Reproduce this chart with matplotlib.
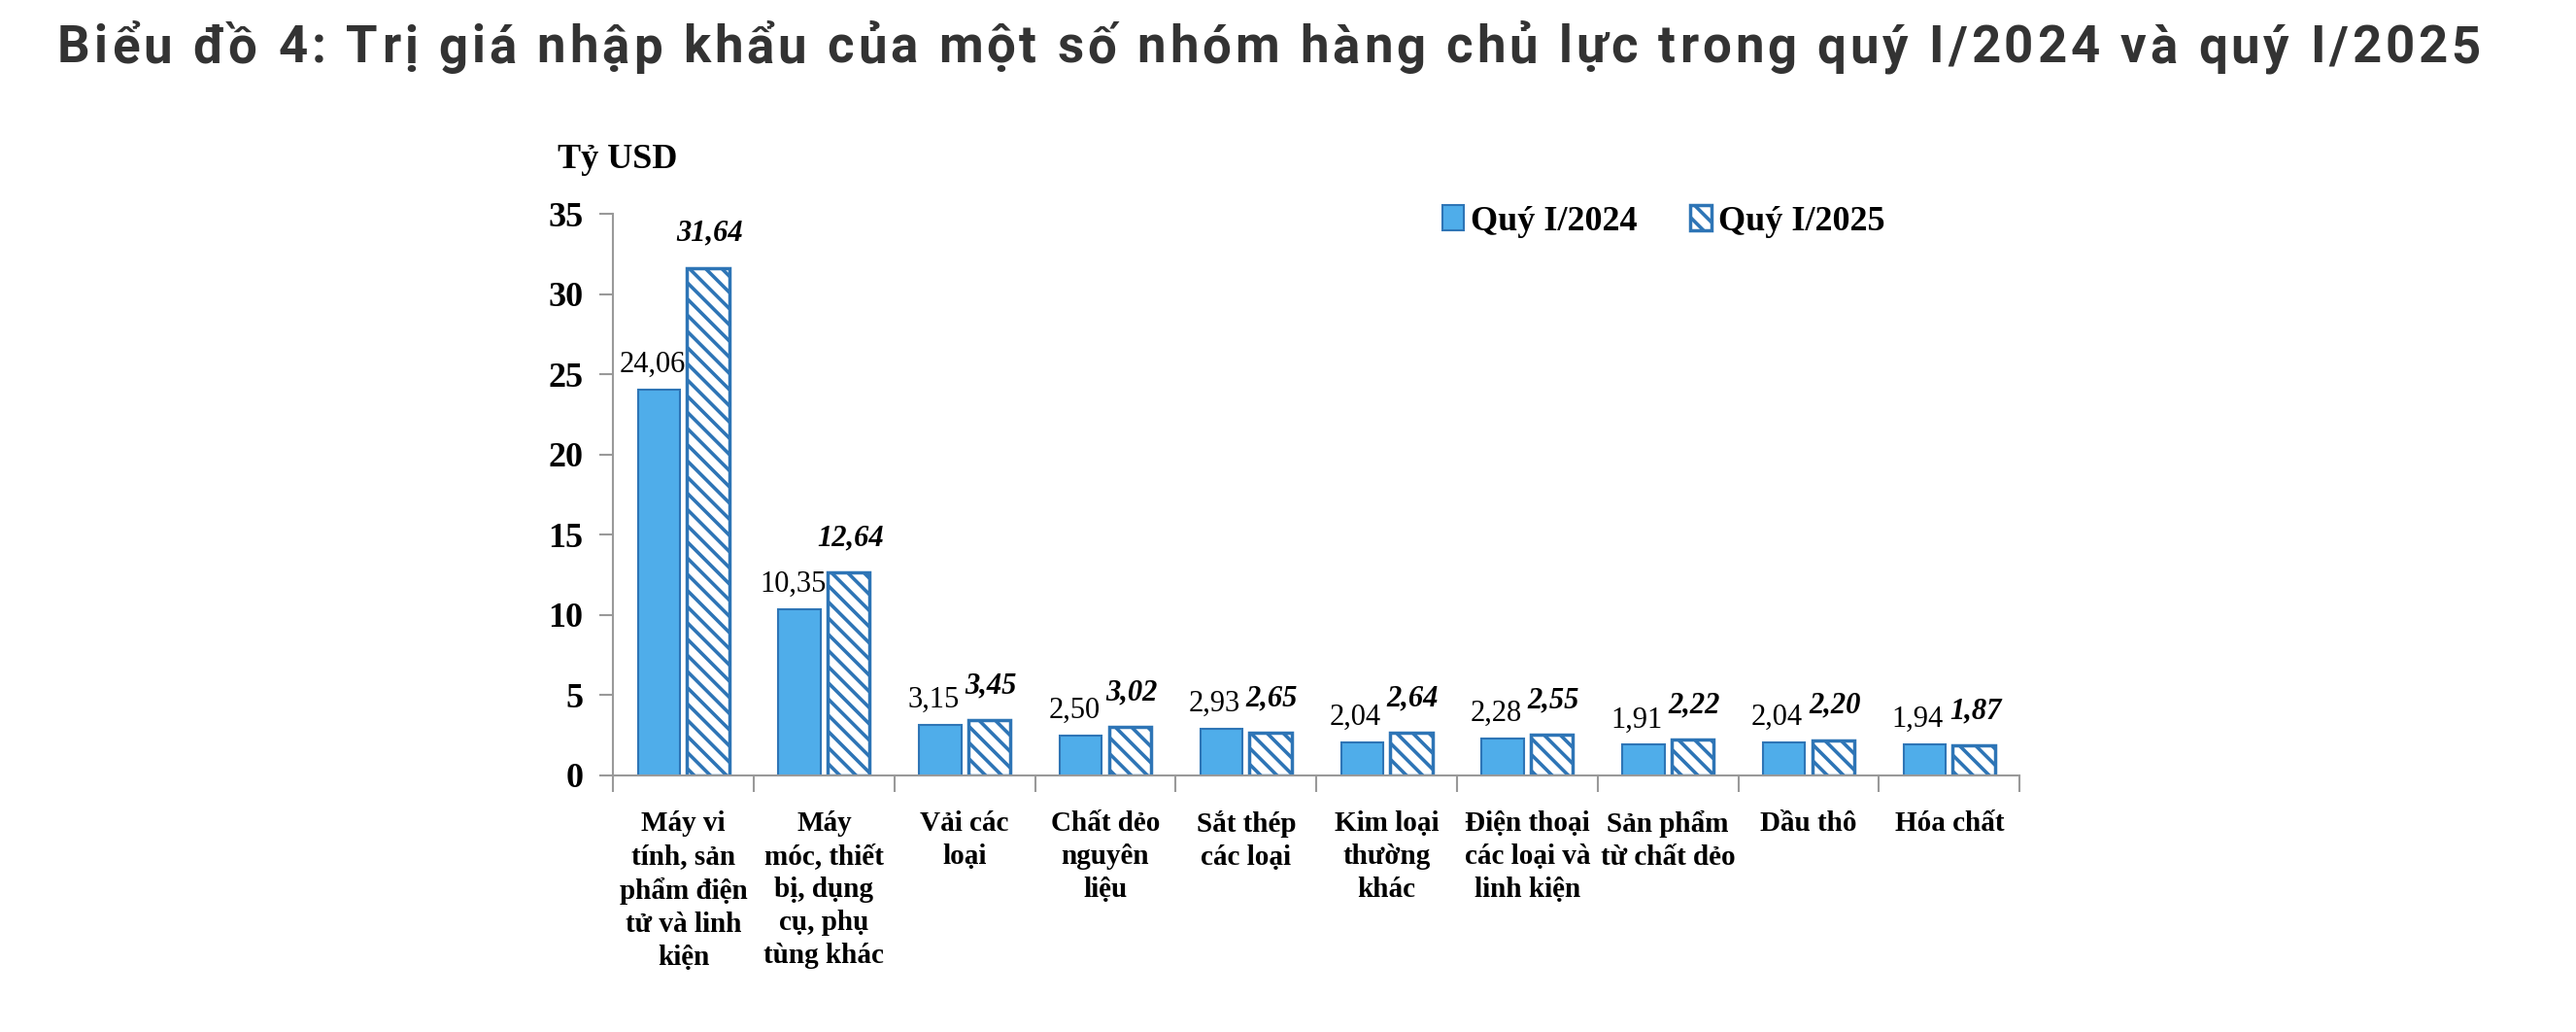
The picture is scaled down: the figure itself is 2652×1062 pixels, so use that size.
import numpy as np
import matplotlib
matplotlib.use("Agg")
import matplotlib.pyplot as plt
from matplotlib.patches import Patch
import matplotlib.transforms as mtransforms

title = "Biểu đồ 4: Trị giá nhập khẩu của một số nhóm hàng chủ lực trong quý I/2024 và quý I/2025"
unit = "Tỷ USD"
categories = ["Máy vi\ntính, sản\nphẩm điện\ntử và linh\nkiện",
              "Máy\nmóc, thiết\nbị, dụng\ncụ, phụ\ntùng khác",
              "Vải các\nloại",
              "Chất dẻo\nnguyên\nliệu",
              "Sắt thép\ncác loại",
              "Kim loại\nthường\nkhác",
              "Điện thoại\ncác loại và\nlinh kiện",
              "Sản phẩm\ntừ chất dẻo",
              "Dầu thô",
              "Hóa chất"]
q1_2024 = [24.06, 10.35, 3.15, 2.50, 2.93, 2.04, 2.28, 1.91, 2.04, 1.94]
q1_2025 = [31.64, 12.64, 3.45, 3.02, 2.65, 2.64, 2.55, 2.22, 2.20, 1.87]
series_names = ["Quý I/2024", "Quý I/2025"]
yticks = [0, 5, 10, 15, 20, 25, 30, 35]

fill_blue = "#4FADEA"
edge_blue = "#2E75B6"
serif = "Liberation Serif"

plt.rcParams['hatch.linewidth'] = 2.6
plt.rcParams['hatch.color'] = fill_blue

W, H = 2652, 1062
fig = plt.figure(figsize=(W / 100, H / 100), dpi=100)
ax = fig.add_axes([0.238, 0.2486, 0.546, 0.5442])

x = np.arange(len(categories)) + 0.5
w = 0.30
off = 0.175
b1 = ax.bar(x - off, q1_2024, w, color=fill_blue, edgecolor=edge_blue, linewidth=1.5)
b2 = ax.bar(x + off, q1_2025, w, color="white", edgecolor=edge_blue, linewidth=2.5, hatch="\\\\")

# data labels
for xi, v in zip(x - off, q1_2024):
    ax.annotate(f"{v:.2f}".replace(".", ","), (xi, v), xytext=(-5, 8), textcoords="offset points",
                ha="center", va="bottom", fontsize=22, family=serif)
for xi, v in zip(x + off, q1_2025):
    ax.annotate(f"{v:.2f}".replace(".", ","), (xi, v), xytext=(1, 15), textcoords="offset points",
                ha="center", va="bottom", fontsize=22, family=serif, fontweight="bold", style="italic")

ax.set_xlim(0, len(categories))
ax.set_ylim(0, 35)
ax.set_yticks(yticks)
ax.set_yticklabels([str(t) for t in yticks], fontsize=26, fontweight="bold", family=serif)
ax.set_xticks(np.arange(len(categories) + 1))
ax.set_xticklabels([])
ax.tick_params(axis="y", length=10, width=1.5, color="#999999", pad=12)
ax.tick_params(axis="x", length=12, width=1.5, color="#999999")
for s in ["top", "right"]:
    ax.spines[s].set_visible(False)
for s in ["left", "bottom"]:
    ax.spines[s].set_color("#999999")
    ax.spines[s].set_linewidth(1.5)

trans = mtransforms.blended_transform_factory(ax.transData, ax.transAxes)
for xi, lab in zip(x, categories):
    ax.text(xi, -0.062, lab, transform=trans, ha="center", va="top", fontsize=21,
            fontweight="bold", family=serif, linespacing=1.34)

fig.text(574 / W, 1 - 164 / H, unit, fontsize=26, fontweight="bold", family=serif,
         ha="left", va="center")

handles = [Patch(facecolor=fill_blue, edgecolor=edge_blue, linewidth=1.5),
           Patch(facecolor="white", edgecolor=edge_blue, linewidth=2.5, hatch="\\\\")]
leg = fig.legend(handles, series_names, loc="center", bbox_to_anchor=(1713 / W, 1 - 228 / H),
                 ncol=2, frameon=False, prop={"family": serif, "weight": "bold", "size": 26},
                 handlelength=0.6, handleheight=0.7, handletextpad=0.2, columnspacing=1.5)

# title with letter spacing, drawn char by char
x0, x1 = 59, 2554
ty = 1 - 50 / H
renderer = fig.canvas.get_renderer()
tprops = dict(fontsize=38, fontweight="bold", family="Roboto", color="#333333", va="center", ha="left")
probe = fig.text(0, 0, title, **tprops)
full_w = probe.get_window_extent(renderer).width
probe.remove()
track = (x1 - x0 - full_w) / (len(title) - 1)
for i, ch in enumerate(title):
    if i > 0:
        p = fig.text(0, 0, title[:i] + "|", **tprops)
        bar_t = fig.text(0, 0, "|", **tprops)
        pw = p.get_window_extent(renderer).width - bar_t.get_window_extent(renderer).width
        p.remove()
        bar_t.remove()
    else:
        pw = 0
    fig.text((x0 + pw + i * track) / W, ty, ch, **tprops)

fig.savefig("out.png", dpi=100)
